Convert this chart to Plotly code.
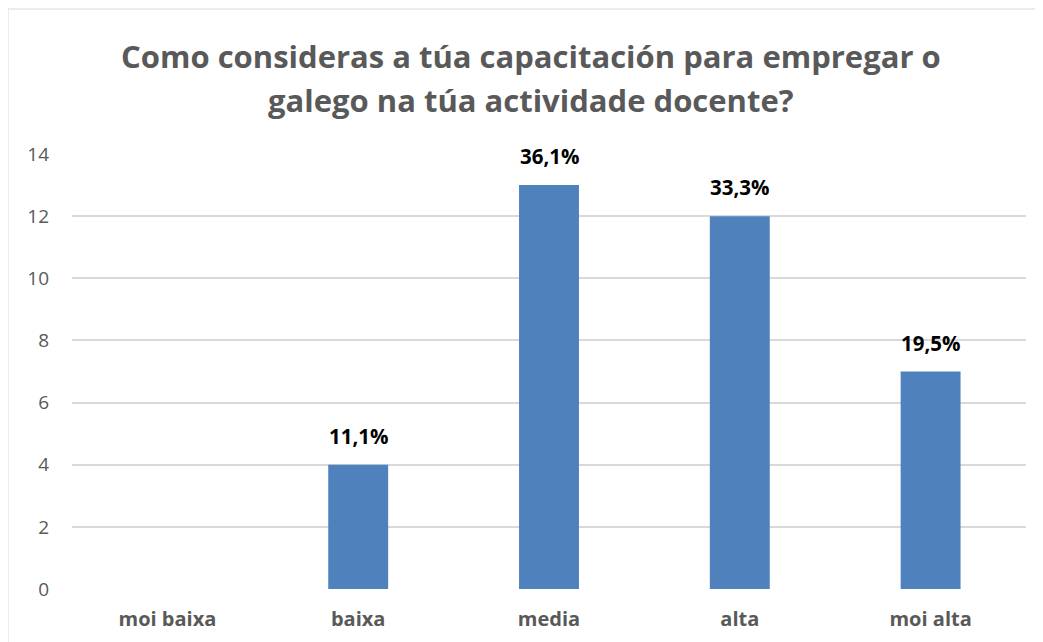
import plotly.graph_objects as go

categories = ["moi baixa", "baixa", "media", "alta", "moi alta"]
counts = [0, 4, 13, 12, 7]
percent_labels = ["", "11,1%", "36,1%", "33,3%", "19,5%"]
y_ticks = [0, 2, 4, 6, 8, 10, 12, 14]
title_lines = ["Como consideras a túa capacitación para empregar o",
               "galego na túa actividade docente?"]

FONT = "Open Sans"
GREY = "#595959"

fig = go.Figure()
fig.add_trace(go.Bar(x=categories, y=counts, marker=dict(color="#4F81BD", line=dict(width=0)),
                     hoverinfo="skip"))

for c, v, t in zip(categories, counts, percent_labels):
    if t:
        fig.add_annotation(x=c, y=v, xref="x", yref="y", text="<b>%s</b>" % t,
                           showarrow=False, yanchor="bottom", yshift=13,
                           font=dict(family=FONT, size=20.5, color="#000000"))

for yy, line in zip([1.2253, 1.1241], title_lines):
    fig.add_annotation(x=0.481, y=yy, xref="paper", yref="paper", text="<b>%s</b>" % line,
                       showarrow=False, xanchor="center", yanchor="middle",
                       font=dict(family=FONT, size=31, color=GREY))

fig.add_shape(type="rect", xref="paper", yref="paper", x0=-0.0671, x1=1.05, y0=-0.2, y1=1.3333,
              line=dict(color="#D9D9D9", width=1), fillcolor="rgba(0,0,0,0)", layer="below")

fig.update_layout(
    width=1035, height=634,
    margin=dict(l=64, r=17, t=146, b=53),
    paper_bgcolor="white", plot_bgcolor="white",
    showlegend=False,
    bargap=0.686,
    xaxis=dict(showgrid=False, showline=False, zeroline=False, ticks="", automargin=False,
               tickfont=dict(family=FONT, size=20, color=GREY),
               ticktext=["<b>%s</b>" % c for c in categories], tickvals=categories,
               ticklabelstandoff=16),
    yaxis=dict(range=[0, 14], tickvals=y_ticks, showgrid=True, gridcolor="#D9D9D9", gridwidth=1.5,
               zeroline=False, showline=False, ticks="", automargin=False,
               tickfont=dict(family=FONT, size=19, color=GREY), ticklabelstandoff=22),
)

fig.write_html("out.html")
